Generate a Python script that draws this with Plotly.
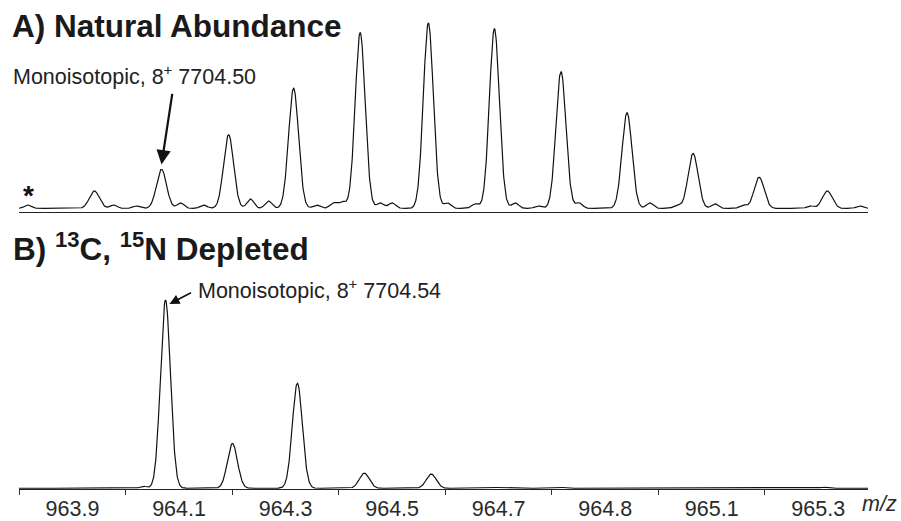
import numpy as np
import plotly.graph_objects as go

# ---------------- data ----------------
# A) natural abundance: isotopic peaks (m/z) and heights above the noise floor (% of max)
a_peak_mz = [963.941, 964.067, 964.193, 964.315, 964.440, 964.568,
             964.692, 964.817, 964.941, 965.065, 965.189, 965.317]
a_peak_int = [9.2, 20.7, 39.0, 63.6, 93.0, 98.2, 95.1, 72.5, 50.6, 29.1, 16.5, 9.2]
a_noise_mz = [963.816, 963.977, 964.020, 964.103, 964.146, 964.234, 964.268, 964.358,
              964.390, 964.407, 964.478, 964.500, 964.604, 964.656, 964.731, 964.774,
              964.851, 964.984, 965.035, 965.106, 965.159, 965.285, 965.378]
a_noise_int = [1.8, 1.8, 1.3, 2.9, 1.8, 5.0, 3.9, 1.8, 2.9, 3.4, 2.9, 2.9,
               2.9, 2.4, 2.9, 1.3, 2.9, 2.9, 1.8, 2.4, 1.8, 1.3, 1.3]
a_floor = 1.8

# B) 13C, 15N depleted
b_peak_mz = [964.0745, 964.2002, 964.3221, 964.4478, 964.5735]
b_peak_int = [99.6, 23.7, 55.6, 8.0, 7.5]
b_noise_mz = [963.821, 963.846, 964.033, 964.697, 964.821, 965.311]
b_noise_int = [0.4, 0.4, 1.0, 0.4, 0.4, 0.6]
b_floor = 0.4

peak_sigma = 0.0094     # m/z
noise_sigma = 0.0066    # m/z

tick_mz = [963.8, 964.0, 964.2, 964.4, 964.6, 964.8, 965.0, 965.2]
label_mz = [963.9, 964.1, 964.3, 964.5, 964.7, 964.9, 965.1, 965.3]
label_text = ["963.9", "964.1", "964.3", "964.5", "964.7", "964.8", "965.1", "965.3"]

# ---------------- build profiles ----------------
x_range = [963.7995, 965.3934]
mz = np.linspace(x_range[0], x_range[1], 2400)


def profile(floor, centers, heights, sigma):
    y = np.full_like(mz, floor)
    for c, h in zip(centers, heights):
        y += h * np.exp(-0.5 * ((mz - c) / sigma) ** 2)
    return y


ya = profile(a_floor, a_peak_mz, a_peak_int, peak_sigma) + \
    profile(0.0, a_noise_mz, a_noise_int, noise_sigma)
yb = profile(b_floor, b_peak_mz, b_peak_int, peak_sigma) + \
    profile(0.0, b_noise_mz, b_noise_int, noise_sigma)

FONT = "Liberation Sans, Arial, sans-serif"
W, H = 901, 521
ML, MR, MT, MB = 19, 33, 0, 27
PW, PH = W - ML - MR, H - MT - MB


def px(xp):
    return (xp - ML) / PW


def py(yp):
    return (PH + MT - yp) / PH


fig = go.Figure()
fig.add_trace(go.Scatter(x=mz, y=ya, mode="lines", xaxis="x", yaxis="y",
                         line=dict(color="#111111", width=1.2), hoverinfo="skip"))
fig.add_trace(go.Scatter(x=mz, y=yb, mode="lines", xaxis="x2", yaxis="y2",
                         line=dict(color="#111111", width=1.2), hoverinfo="skip"))

yr = [0, 110]
fig.update_layout(
    width=W, height=H,
    margin=dict(l=ML, r=MR, t=MT, b=MB, pad=0),
    paper_bgcolor="white", plot_bgcolor="white",
    showlegend=False,
    font=dict(family=FONT, color="#222222"),
    xaxis=dict(domain=[0, 1], range=x_range, anchor="y", showline=True,
               linecolor="#222222", linewidth=1.2, ticks="", showticklabels=False,
               showgrid=False, zeroline=False),
    yaxis=dict(domain=[(PH - 214) / PH, (PH - 4) / PH], range=yr, visible=False),
    xaxis2=dict(domain=[0, 1], range=x_range, anchor="y2", showline=True,
                linecolor="#222222", linewidth=1.2, showgrid=False, zeroline=False,
                tickmode="array", tickvals=label_mz, ticktext=label_text, ticks="",
                tickfont=dict(size=21.5, color="#2a2a2a", family=FONT),
                minor=dict(tickmode="array", tickvals=tick_mz, ticks="outside",
                           ticklen=5, tickwidth=1, tickcolor="#333333", showgrid=False)),
    yaxis2=dict(domain=[0, 210 / PH], range=yr, visible=False),
)

ann = []
# panel titles
ann.append(dict(text="<b>A) Natural Abundance</b>", xref="paper", yref="paper",
                x=px(10), y=py(46.6), xanchor="left", yanchor="bottom", showarrow=False,
                font=dict(size=31.5, color="#1a1a1a", family=FONT)))
ann.append(dict(text="<b>B) <sup>13</sup>C, <sup>15</sup>N Depleted</b>", xref="paper", yref="paper",
                x=px(11), y=py(271.6), xanchor="left", yanchor="bottom", showarrow=False,
                font=dict(size=31.5, color="#1a1a1a", family=FONT)))
# peak labels
ann.append(dict(text="Monoisotopic, 8<sup>+</sup> 7704.50", xref="paper", yref="paper",
                x=px(11), y=py(91.5), xanchor="left", yanchor="bottom", showarrow=False,
                font=dict(size=21.5, color="#222222", family=FONT)))
ann.append(dict(text="Monoisotopic, 8<sup>+</sup> 7704.54", xref="paper", yref="paper",
                x=px(196), y=py(308.5), xanchor="left", yanchor="bottom", showarrow=False,
                font=dict(size=21.5, color="#222222", family=FONT)))
# arrows
ann.append(dict(text="", x=a_peak_mz[1], y=a_floor + a_peak_int[1] + 2.6, xref="x", yref="y",
                showarrow=True, ax=11, ay=-72, arrowhead=2, arrowsize=1.3, arrowwidth=2.2,
                arrowcolor="#111111"))
ann.append(dict(text="", x=b_peak_mz[0] + 0.0075, y=b_floor + b_peak_int[0] - 2.1, xref="x2", yref="y2",
                showarrow=True, ax=23, ay=-12, arrowhead=2, arrowsize=1.25, arrowwidth=1.6,
                arrowcolor="#111111"))
# asterisk
ann.append(dict(text="<b>*</b>", xref="paper", yref="paper", x=px(21), y=py(215),
                xanchor="left", yanchor="bottom", showarrow=False,
                font=dict(size=28, color="#111111", family=FONT)))
# axis unit
ann.append(dict(text="<i>m/z</i>", xref="paper", yref="paper", x=px(860), y=py(523.4),
                xanchor="left", yanchor="bottom", showarrow=False,
                font=dict(size=21.5, color="#2a2a2a", family=FONT)))
fig.update_layout(annotations=ann)

fig.write_html("out.html")
